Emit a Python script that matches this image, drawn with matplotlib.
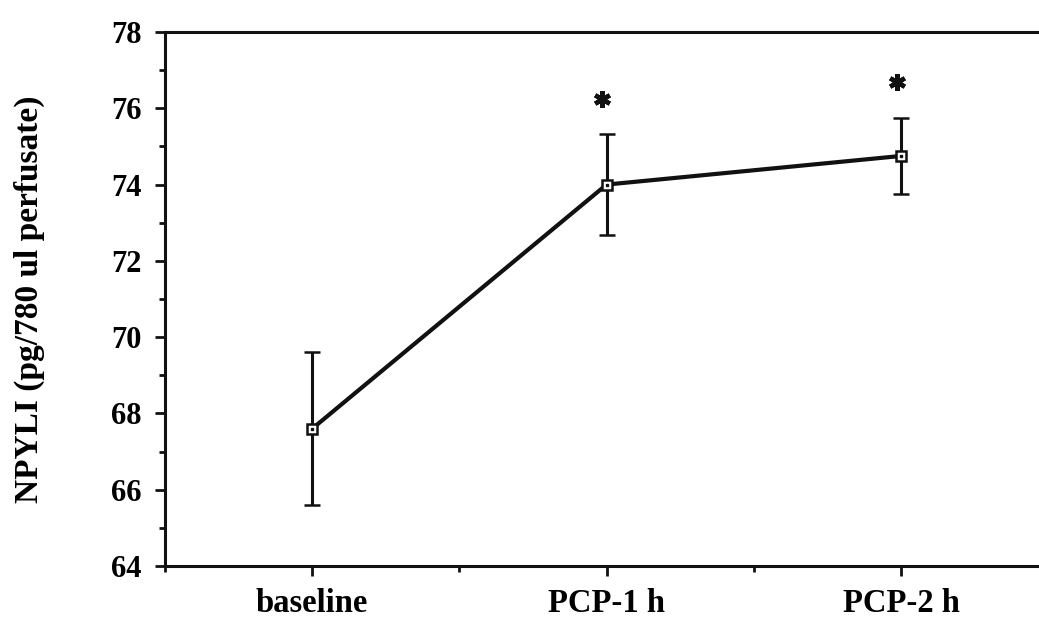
import matplotlib.pyplot as plt
from matplotlib.ticker import MultipleLocator

conditions = ['baseline', 'PCP-1 h', 'PCP-2 h']
npyli = [67.6, 74.0, 74.75]
npyli_err = [2.0, 1.33, 1.0]
star_x = [1, 2]
star_y = [76.25, 76.7]

plt.rcParams['font.family'] = ['Liberation Serif', 'DejaVu Serif']
plt.rcParams['font.weight'] = 'bold'

fig = plt.figure(figsize=(10.39, 6.21), dpi=100)
ax = fig.add_axes([0.1588, 0.0885, 0.85, 0.86])

x = list(range(len(conditions)))
ax.errorbar(x, npyli, yerr=npyli_err, color='#111111', lw=3, elinewidth=2.2,
            capsize=6, capthick=2.2, marker='s', ms=7, mfc='white', mec='#111111',
            mew=1.8, zorder=3)
# small dot inside each square marker
ax.plot(x, npyli, ls='none', marker='s', ms=1.5, color='#111111', zorder=4)
# significance asterisks
ax.plot([s - 0.015 for s in star_x], star_y, ls='none', marker=(6, 2, 0), ms=12,
        mew=3.2, color='#111111')

ax.set_xlim(-0.5, 2.5)
ax.set_ylim(64, 78)
ax.set_xticks(x)
ax.set_xticklabels(conditions)
ax.xaxis.set_minor_locator(MultipleLocator(0.5))
ax.yaxis.set_major_locator(MultipleLocator(2))
ax.yaxis.set_minor_locator(MultipleLocator(1))
ax.spines['right'].set_visible(False)
for sp in ['left', 'top', 'bottom']:
    ax.spines[sp].set_linewidth(2.2)
    ax.spines[sp].set_color('#111111')
ax.tick_params(axis='both', which='major', direction='out', width=2, length=7,
               color='#111111', pad=10)
ax.tick_params(axis='both', which='minor', direction='out', width=2, length=4.5,
               color='#111111')
ax.tick_params(axis='y', which='major', labelsize=22)
ax.tick_params(axis='x', which='major', labelsize=23.5, pad=8.5)
ax.set_ylabel('NPYLI (pg/780 ul perfusate)', fontsize=24, fontweight='bold')
ax.yaxis.set_label_coords(-0.136, 0.5)

fig.savefig('out.png', dpi=100)
